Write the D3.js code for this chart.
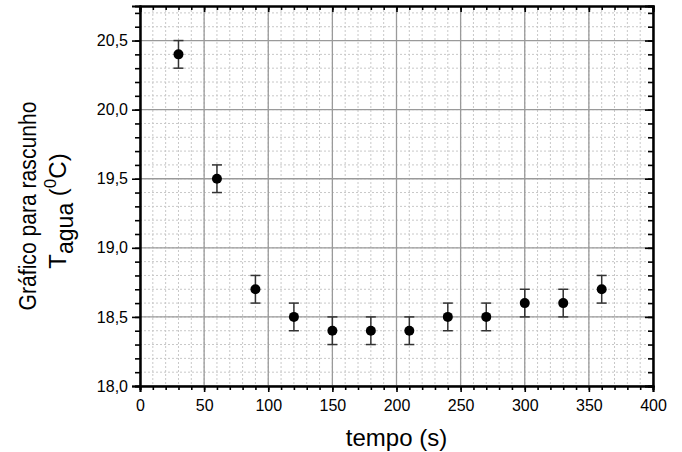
<!DOCTYPE html>
<html lang="pt">
<head>
<meta charset="utf-8">
<title>Gráfico para rascunho</title>
<script src="https://cdn.jsdelivr.net/npm/d3@7"></script>
<style>
    body { margin: 0; background: #fff; }
    text { font-family: "Liberation Sans", Arial, sans-serif; fill: #000; }
</style>
</head>
<body>
<script>

    // data
    var tempo = [30, 60, 90, 120, 150, 180, 210, 240, 270, 300, 330, 360];
    var tAgua = [20.4, 19.5, 18.7, 18.5, 18.4, 18.4, 18.4, 18.5, 18.5, 18.6, 18.6, 18.7];
    var erro = [0.1, 0.1, 0.1, 0.1, 0.1, 0.1, 0.1, 0.1, 0.1, 0.1, 0.1, 0.1];
    var xTicks = [0, 50, 100, 150, 200, 250, 300, 350, 400];
    var yTicks = [18.0, 18.5, 19.0, 19.5, 20.0, 20.5];

    var W = 682, H = 452;
    var margin = {top: 6, right: 29, bottom: 66, left: 140};
    var w = W - margin.left - margin.right,
        h = H - margin.top - margin.bottom;

    var svg = d3.select("body").append("svg")
        .attr("width", W)
        .attr("height", H);

    var g = svg.append("g")
        .attr("transform", "translate(" + margin.left + "," + margin.top + ")");

    var x = d3.scaleLinear().domain([0, 400]).range([0, w]);
    var y = d3.scaleLinear().domain([18.0, 20.75]).range([h, 0]);

    var fmt = function(d) { return d3.format(".1f")(d).replace(".", ","); };

    var xMinor = d3.range(0, 401, 10);
    var yMinor = d3.range(0, 28).map(function(i) { return +(18 + i * 0.1).toFixed(1); });

    // minor grid (dashed)
    g.selectAll(".xminor").data(xMinor).enter().append("line")
        .attr("x1", function(d) { return x(d); }).attr("x2", function(d) { return x(d); })
        .attr("y1", 0).attr("y2", h)
        .style("stroke", "#c8c8c8").style("stroke-width", 1).style("stroke-dasharray", "2,2");
    g.selectAll(".yminor").data(yMinor).enter().append("line")
        .attr("y1", function(d) { return y(d); }).attr("y2", function(d) { return y(d); })
        .attr("x1", 0).attr("x2", w)
        .style("stroke", "#c8c8c8").style("stroke-width", 1).style("stroke-dasharray", "2,2");

    // major grid
    g.selectAll(".xmajor").data(xTicks).enter().append("line")
        .attr("x1", function(d) { return x(d); }).attr("x2", function(d) { return x(d); })
        .attr("y1", 0).attr("y2", h)
        .style("stroke", "#9a9a9a").style("stroke-width", 1.3);
    g.selectAll(".ymajor").data(yTicks).enter().append("line")
        .attr("y1", function(d) { return y(d); }).attr("y2", function(d) { return y(d); })
        .attr("x1", 0).attr("x2", w)
        .style("stroke", "#9a9a9a").style("stroke-width", 1.3);

    // axes: bottom and left outward, top and right inward
    var xAxisB = d3.axisBottom(x).tickValues(xTicks).tickFormat(d3.format("d")).tickSize(6).tickPadding(8);
    var xAxisBm = d3.axisBottom(x).tickValues(xMinor).tickFormat("").tickSize(4);
    var xAxisT = d3.axisBottom(x).tickValues(xTicks).tickFormat("").tickSize(6);
    var xAxisTm = d3.axisBottom(x).tickValues(xMinor).tickFormat("").tickSize(4);
    var yAxisL = d3.axisLeft(y).tickValues(yTicks).tickFormat(fmt).tickSize(8).tickPadding(4);
    var yAxisLm = d3.axisLeft(y).tickValues(yMinor).tickFormat("").tickSize(5);
    var yAxisR = d3.axisLeft(y).tickValues(yTicks).tickFormat("").tickSize(8);
    var yAxisRm = d3.axisLeft(y).tickValues(yMinor).tickFormat("").tickSize(5);

    function styleAxis(sel) {
        sel.selectAll("path").style("stroke", "#000").style("stroke-width", 2);
        sel.selectAll("line").style("stroke", "#000").style("stroke-width", 1.6);
        sel.selectAll("text").style("font-size", "16px");
    }

    g.append("g").attr("transform", "translate(0," + h + ")").call(xAxisBm).call(styleAxis);
    g.append("g").attr("transform", "translate(0," + h + ")").call(xAxisB).call(styleAxis);
    g.append("g").call(xAxisTm).call(styleAxis);
    g.append("g").call(xAxisT).call(styleAxis);
    g.append("g").call(yAxisLm).call(styleAxis);
    g.append("g").call(yAxisL).call(styleAxis);
    g.append("g").attr("transform", "translate(" + w + ",0)").call(yAxisRm).call(styleAxis);
    g.append("g").attr("transform", "translate(" + w + ",0)").call(yAxisR).call(styleAxis);

    // error bars
    var pts = tempo.map(function(t, i) { return {t: t, v: tAgua[i], e: erro[i]}; });

    g.selectAll(".err").data(pts).enter().append("line")
        .attr("x1", function(d) { return x(d.t); }).attr("x2", function(d) { return x(d.t); })
        .attr("y1", function(d) { return y(d.v - d.e); }).attr("y2", function(d) { return y(d.v + d.e); })
        .style("stroke", "#333").style("stroke-width", 1.5);
    g.selectAll(".capTop").data(pts).enter().append("line")
        .attr("x1", function(d) { return x(d.t) - 5; }).attr("x2", function(d) { return x(d.t) + 5; })
        .attr("y1", function(d) { return y(d.v + d.e); }).attr("y2", function(d) { return y(d.v + d.e); })
        .style("stroke", "#333").style("stroke-width", 1.5);
    g.selectAll(".capBot").data(pts).enter().append("line")
        .attr("x1", function(d) { return x(d.t) - 5; }).attr("x2", function(d) { return x(d.t) + 5; })
        .attr("y1", function(d) { return y(d.v - d.e); }).attr("y2", function(d) { return y(d.v - d.e); })
        .style("stroke", "#333").style("stroke-width", 1.5);

    g.selectAll("circle").data(pts).enter().append("circle")
        .attr("cx", function(d) { return x(d.t); })
        .attr("cy", function(d) { return y(d.v); })
        .attr("r", 5)
        .attr("fill", "#000");

    // x label
    svg.append("text")
        .attr("x", margin.left + w / 2)
        .attr("y", 446)
        .style("text-anchor", "middle")
        .style("font-size", "24px")
        .text("tempo (s)");

    // y labels
    svg.append("text")
        .attr("transform", "translate(36,206) rotate(-90) scale(0.88,1)")
        .style("text-anchor", "middle")
        .style("font-size", "24px")
        .text("Gráfico para rascunho");

    var yl = svg.append("text")
        .attr("transform", "translate(66,211) rotate(-90)")
        .style("text-anchor", "middle")
        .style("font-size", "24px");
    yl.append("tspan").text("T");
    yl.append("tspan").attr("dy", 7).style("font-size", "23px").text("agua");
    yl.append("tspan").attr("dy", -7).text(" (");
    yl.append("tspan").attr("dy", -10).style("font-size", "17px").text("0");
    yl.append("tspan").attr("dy", 10).text("C)");

</script>
</body>
</html>
